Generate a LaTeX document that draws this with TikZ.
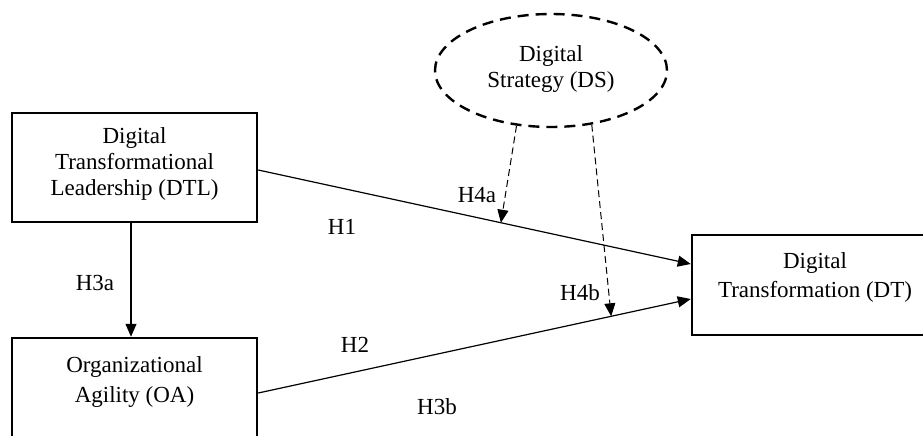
\documentclass[tikz,border=0pt]{standalone}
\usepackage{fontspec}
\setmainfont{Liberation Serif}
\usetikzlibrary{arrows.meta,shapes.geometric,calc}
\begin{document}
\begin{tikzpicture}[x=1pt,y=-1pt,
  box/.style={draw, line width=2.5pt, rectangle, inner sep=0pt},
  oval/.style={draw, ellipse, line width=2.4pt, dash pattern=on 11pt off 7pt, inner sep=0pt},
  txt/.style={align=center, inner sep=0pt, font=\fontsize{23}{26}\selectfont},
  txts/.style={align=center, inner sep=0pt, font=\fontsize{23}{25.5}\selectfont},
  txtw/.style={align=center, inner sep=0pt, font=\fontsize{23}{29.5}\selectfont},
  hlab/.style={inner sep=0pt, font=\fontsize{23}{26}\selectfont},
  arr/.style={line width=1.2pt, -{Triangle[length=13pt,width=11pt]}},
  darr/.style={line width=1pt, dash pattern=on 7pt off 4pt, -{Triangle[length=13pt,width=11pt]}}
]
\useasboundingbox (0,0) rectangle (923,436);
\clip (0,0) rectangle (923,436);
\fill[white] (0,0) rectangle (923,436);

% boxes
\node[box, minimum width=245pt, minimum height=109pt] (dtl) at (134.5,167.5) {};
\node[txt] (dtlT) at (134.5,163.5) {Digital\\Transformational\\Leadership (DTL)};
\node[box, minimum width=245pt, minimum height=132pt] (oa) at (134.5,404) {};
\node[txtw] (oaT) at (134.5,382) {Organizational\\Agility (OA)};
\node[box, minimum width=246pt, minimum height=100pt] (dt) at (815,285) {};
\node[txtw] (dtT) at (815,277.6) {Digital\\Transformation (DT)};
\node[oval, minimum width=232pt, minimum height=113pt] (ds) at (551,70.5) {};
\node[txts] (dsT) at (551,69) {Digital\\Strategy (DS)};

% connectors
\draw[arr] ([yshift=-2.5pt]dtl.east) -- coordinate[pos=0.561] (m1) ([yshift=21pt]dt.west);
\draw[arr] ([yshift=11pt]oa.east) -- coordinate[pos=0.816] (m2) ([yshift=-14pt]dt.west);
\draw[arr] ([xshift=-3.5pt]dtl.south) -- ([xshift=-3.5pt]oa.north);
\draw[darr] (ds.-122) -- (m1);
\draw[darr] (ds.-53) -- (m2);

% labels
\node[hlab] (h1) at (342,227) {H1};
\node[hlab] (h4a) at (477,195) {H4a};
\node[hlab] (h3a) at (95,283) {H3a};
\node[hlab] (h4b) at (580,293) {H4b};
\node[hlab] (h2) at (355,345) {H2};
\node[hlab] (h3b) at (437,407) {H3b};
\end{tikzpicture}
\end{document}
